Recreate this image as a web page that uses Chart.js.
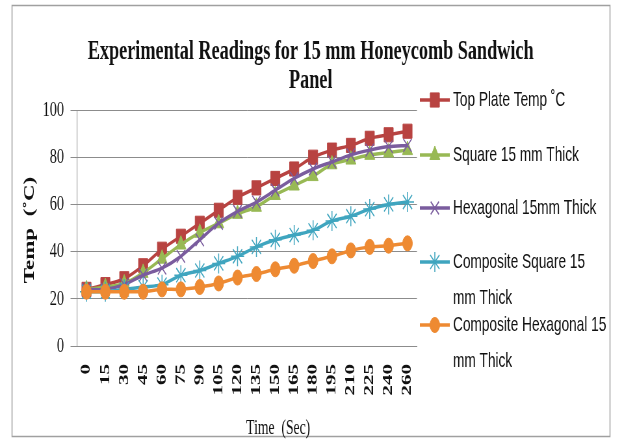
<!DOCTYPE html>
<html lang="en">
<head>
<meta charset="UTF-8">
<title>Experimental Readings for 15 mm Honeycomb Sandwich Panel</title>
<script src="https://cdn.jsdelivr.net/npm/chart.js"></script>
<style>
    html, body {
        margin: 0;
        padding: 0;
        background: #fff;
        overflow: hidden;
    }
    /* drawn wide, shown narrow: the reference picture is squeezed sideways */
    #chart {
        display: block;
        width: 622px !important;
        height: 443px !important;
    }
</style>
</head>
<body>
<canvas id="chart" width="957" height="443" style="width:622px;height:443px"></canvas>
<script>
    const times = ['0', '15', '30', '45', '60', '75', '90', '105', '120', '135', '150', '165', '180', '195', '210', '225', '240', '260'];

    const topPlate   = [24, 26, 28.5, 34, 41, 46.5, 52, 57.5, 63, 67, 71, 75, 80, 83, 85, 88, 89.5, 91];
    const square15   = [24, 25, 26.5, 31, 37, 43, 48, 52, 56, 59, 64, 68, 72, 77, 79, 81, 82, 83];
    const hex15      = [24, 24, 26, 30, 33, 38, 45, 52, 57, 61, 66, 71, 75, 78, 81, 83, 84.5, 85];
    const compSquare = [23, 23, 24, 25, 26, 30, 32, 35, 38, 42, 45, 47, 49, 53, 55, 58, 60, 61];
    const compHex    = [23, 23, 23, 23, 24, 24, 25, 26.5, 29, 30.5, 32.5, 34, 36, 38, 40.5, 42, 42.5, 43.5];

    const yTicks = [0, 20, 40, 60, 80, 100];

    const titleLines = ['Experimental Readings for 15 mm Honeycomb Sandwich', 'Panel'];
    const yTitle = 'Temp  (\u02DAC)';
    const xTitle = 'Time  (Sec)';
    const legendNames = [
        ['Top Plate Temp \u02DAC'],
        ['Square 15 mm Thick'],
        ['Hexagonal 15mm Thick'],
        ['Composite Square 15', 'mm Thick'],
        ['Composite Hexagonal 15', 'mm Thick']
    ];

    const gridGray = '#8c8c8c';

    function series(label, data, color, style, radius, pointLine, order) {
        return {
            label: label,
            data: data,
            borderColor: color,
            backgroundColor: color,
            borderWidth: 3.5,
            tension: 0.3,
            pointStyle: style,
            pointRadius: radius,
            pointBackgroundColor: color,
            pointBorderColor: color,
            pointBorderWidth: pointLine,
            order: order
        };
    }

    // titles, legend and the outer frame are drawn on the same canvas
    const decorations = {
        id: 'decorations',
        beforeDraw(chart) {
            const ctx = chart.ctx;
            ctx.save();
            ctx.fillStyle = '#fff';
            ctx.fillRect(0, 0, chart.width, chart.height);
            ctx.strokeStyle = '#a0a0a0';
            ctx.lineWidth = 1.5;
            ctx.strokeRect(18.5, 5.5, 920, 431);
            ctx.restore();
        },
        afterDraw(chart) {
            const ctx = chart.ctx;
            ctx.save();
            ctx.fillStyle = '#111';

            ctx.font = 'bold 28px "Liberation Serif"';
            ctx.textAlign = 'center';
            ctx.textBaseline = 'alphabetic';
            ctx.fillText(titleLines[0], 478, 59);
            ctx.fillText(titleLines[1], 478, 88);

            ctx.font = '21px "Liberation Serif"';
            ctx.fillText(xTitle, 428, 434);

            ctx.save();
            ctx.translate(46, 230);
            ctx.rotate(-Math.PI / 2);
            ctx.font = 'bold 23px "Liberation Serif"';
            ctx.textBaseline = 'middle';
            ctx.fillText(yTitle, 0, 0);
            ctx.restore();

            const rows = [100, 155, 208, 262, 325];
            chart.data.datasets.forEach((ds, i) => {
                const y = rows[i];
                ctx.strokeStyle = ds.borderColor;
                ctx.lineWidth = ds.borderWidth;
                ctx.beginPath();
                ctx.moveTo(646, y);
                ctx.lineTo(692, y);
                ctx.stroke();
                if (Chart.helpers && Chart.helpers.drawPoint) {
                    ctx.fillStyle = ds.pointBackgroundColor;
                    ctx.strokeStyle = ds.pointBorderColor;
                    ctx.lineWidth = ds.pointBorderWidth;
                    Chart.helpers.drawPoint(ctx, {
                        pointStyle: ds.pointStyle,
                        radius: ds.pointRadius,
                        borderWidth: ds.pointBorderWidth,
                        rotation: 0
                    }, 669, y);
                }
                ctx.fillStyle = '#111';
                ctx.font = '21px "Liberation Sans"';
                ctx.textAlign = 'left';
                ctx.textBaseline = 'middle';
                legendNames[i].forEach((line, k) => {
                    ctx.fillText(line, 697, y + k * 36);
                });
            });
            ctx.restore();
        }
    };

    new Chart(document.getElementById('chart'), {
        type: 'line',
        data: {
            labels: times,
            datasets: [
                series('Top Plate Temp \u02DAC', topPlate, '#B84341', 'rect', 10, 1, 4),
                series('Square 15 mm Thick', square15, '#98B954', 'triangle', 9, 1, 3),
                series('Hexagonal 15mm Thick', hex15, '#7A5C9E', 'crossRot', 9, 1.5, 2),
                series('Composite Square 15 mm Thick', compSquare, '#3FA5BF', 'star', 10, 1.5, 1),
                series('Composite Hexagonal 15 mm Thick', compHex, '#EE8A32', 'circle', 7.5, 1, 0)
            ]
        },
        options: {
            responsive: false,
            maintainAspectRatio: false,
            devicePixelRatio: 1,
            animation: false,
            layout: {
                padding: { top: 110, right: 315.5, bottom: 0, left: 0 }
            },
            plugins: {
                legend: { display: false },
                title: { display: false },
                tooltip: { enabled: false }
            },
            scales: {
                x: {
                    offset: true,
                    grid: { display: false, drawTicks: false },
                    border: { display: true, color: gridGray, width: 1 },
                    ticks: {
                        autoSkip: false,
                        minRotation: 90,
                        maxRotation: 90,
                        padding: 18,
                        color: '#111',
                        font: { family: 'Liberation Serif', size: 21, weight: 'bold' }
                    },
                    afterFit(scale) { scale.height = 97; }
                },
                y: {
                    min: 0,
                    max: 100,
                    afterBuildTicks(scale) {
                        scale.ticks = yTicks.map(v => ({ value: v }));
                    },
                    grid: { color: gridGray, lineWidth: 1, tickLength: 10 },
                    border: { color: gridGray, width: 1 },
                    ticks: {
                        padding: 10,
                        color: '#111',
                        font: { family: 'Liberation Serif', size: 22 }
                    },
                    afterFit(scale) { scale.width = 118.5; }
                }
            }
        },
        plugins: [decorations]
    });
</script>
</body>
</html>
